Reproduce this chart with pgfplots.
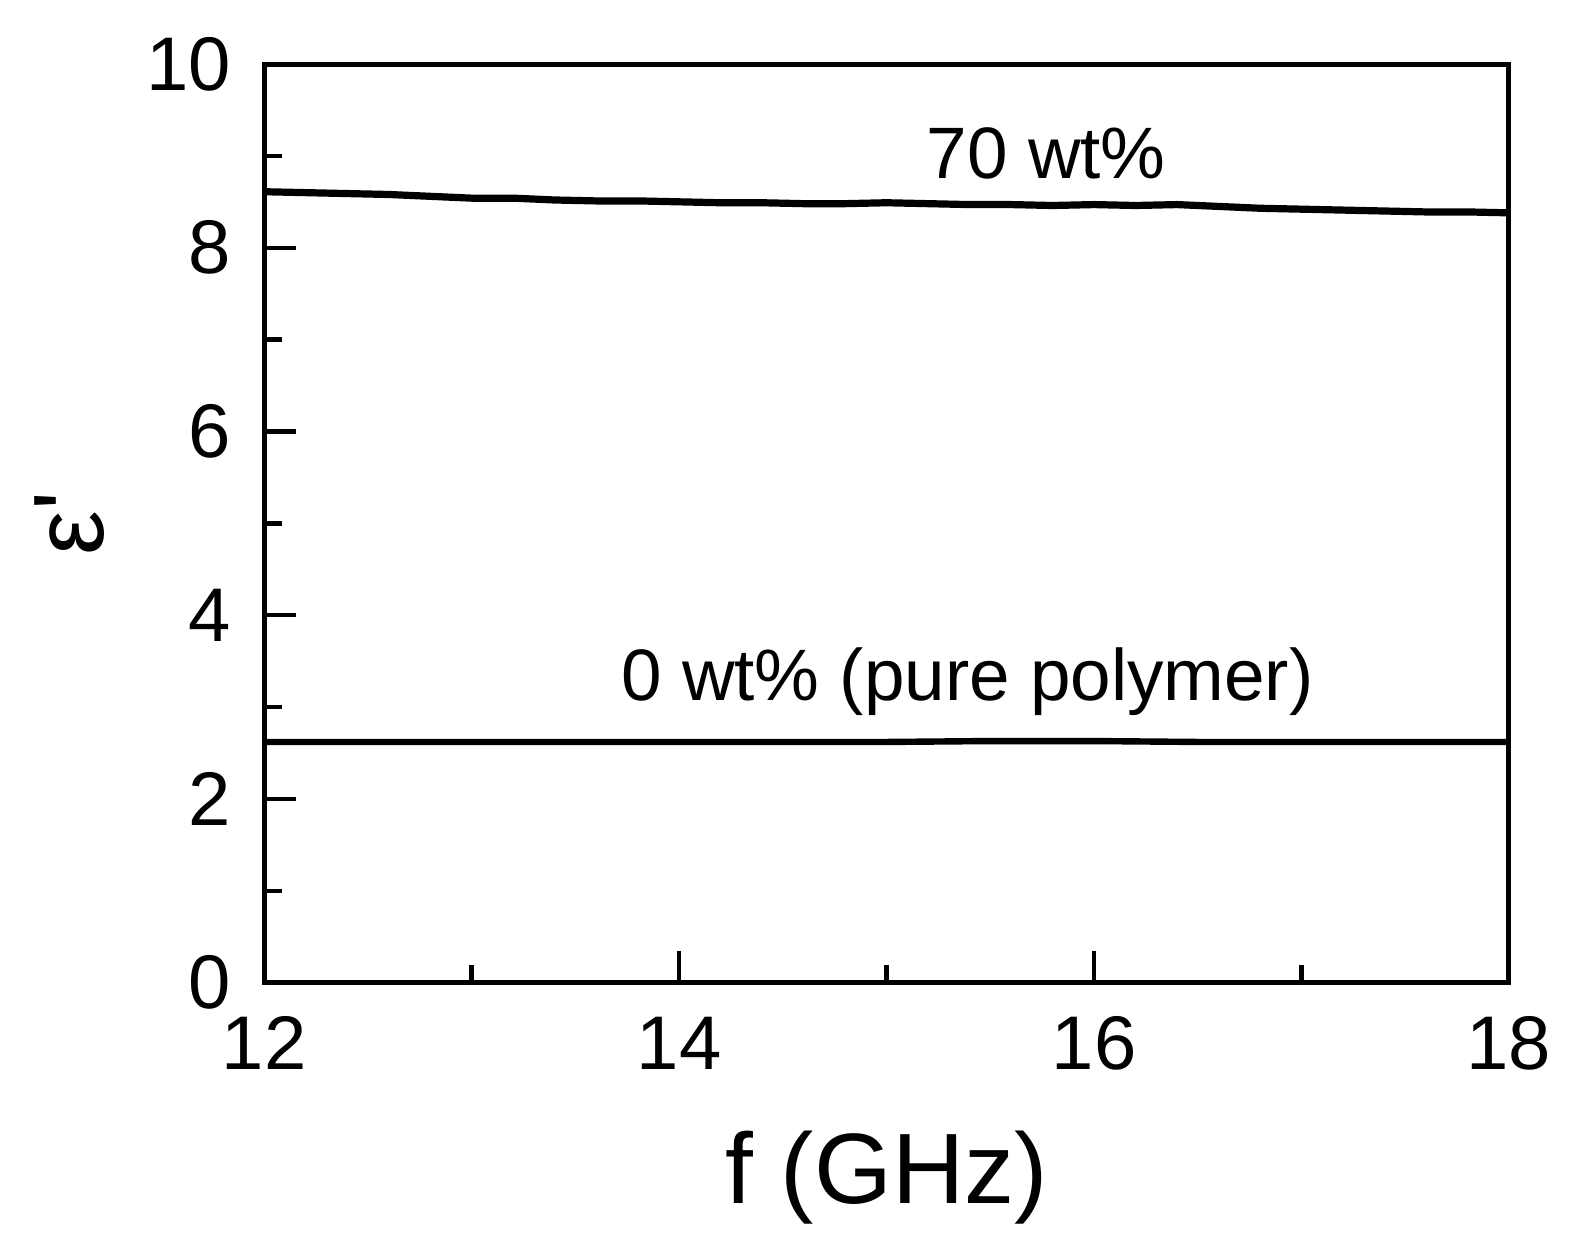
\documentclass[border=0pt]{standalone}
\usepackage{fontspec}
\setmainfont{Liberation Sans}
\usepackage{pgfplots}
\pgfplotsset{compat=1.18}

% 70 wt% composite
\pgfplotstableread{
x y
12.0 8.61
12.2 8.60
12.4 8.59
12.6 8.58
12.8 8.56
13.0 8.54
13.2 8.54
13.4 8.52
13.6 8.51
13.8 8.51
14.0 8.50
14.2 8.49
14.4 8.49
14.6 8.48
14.8 8.48
15.0 8.49
15.2 8.48
15.4 8.47
15.6 8.47
15.8 8.46
16.0 8.47
16.2 8.46
16.4 8.47
16.6 8.45
16.8 8.43
17.0 8.42
17.2 8.41
17.4 8.40
17.6 8.39
17.8 8.39
18.0 8.38
}\highload

% 0 wt% (pure polymer)
\pgfplotstableread{
x y
12.0 2.62
12.5 2.62
13.0 2.62
13.5 2.62
14.0 2.62
14.5 2.62
15.0 2.62
15.5 2.63
16.0 2.63
16.5 2.62
17.0 2.62
17.5 2.62
18.0 2.62
}\pureload

\begin{document}
\begin{tikzpicture}
\begin{axis}[
  scale only axis,
  width=311pt,
  height=229.5pt,
  xmin=12, xmax=18,
  ymin=0, ymax=10,
  xtick={12,14,16,18},
  ytick={0,2,4,6,8,10},
  minor xtick={13,15,17},
  minor ytick={1,3,5,7,9},
  tick align=inside,
  major tick length=8pt,
  minor tick length=4.5pt,
  every tick/.style={black, line width=1.1pt},
  axis line style={line width=1.25pt},
  xtick pos=bottom,
  ytick pos=left,
  /pgf/number format/assume math mode=true,
  ticklabel style={font=\fontsize{19}{22}\selectfont},
  yticklabel style={xshift=-4.75pt},
  xticklabel style={yshift=-5pt},
  xlabel={f (GHz)},
  ylabel={ε\textquotesingle},
  label style={font=\fontsize{25}{30}\selectfont},
  xlabel style={at={(axis description cs:0.5,-0.212)}, anchor=center},
  ylabel style={at={(axis description cs:-0.156,0.5)}, anchor=center},
  clip=false,
]
\addplot[black, line width=1.8pt] table[x=x, y=y] {\highload};
\addplot[black, line width=1.6pt] table[x=x, y=y] {\pureload};
\node[font=\fontsize{18.2}{21}\selectfont] at (axis cs:15.77,9.03) {70 wt\%};
\node[font=\fontsize{18.2}{21}\selectfont] at (axis cs:15.39,3.28) {0 wt\% (pure polymer)};
\end{axis}
\path (current axis.south west) ++(-66pt,-67.75pt) (current axis.north east) ++(17.5pt,16pt);
\end{tikzpicture}
\end{document}
